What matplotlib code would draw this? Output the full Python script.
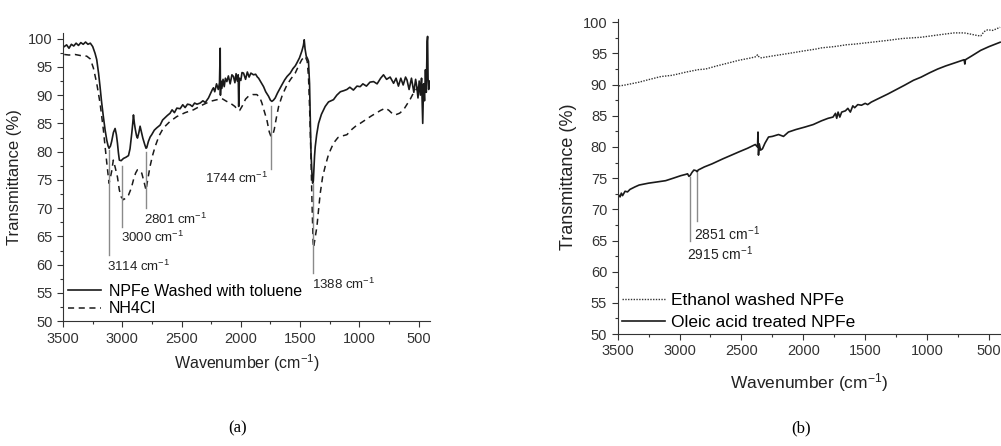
import numpy as np
import matplotlib
matplotlib.use("Agg")
import matplotlib.pyplot as plt
from matplotlib.ticker import MultipleLocator

plt.rcParams["font.family"] = ["Liberation Sans", "DejaVu Sans"]
plt.rcParams["mathtext.default"] = "regular"

# (a) NPFe washed with toluene
tol_wn = [3490, 3470, 3450, 3430, 3410, 3390, 3370, 3350, 3330, 3310, 3290, 3270, 3250, 3230, 3216,
          3200, 3188, 3175, 3160, 3145, 3131, 3120, 3112, 3100, 3090, 3075, 3061, 3050, 3041, 3033,
          3025, 3010, 2990, 2970, 2948, 2935, 2920, 2912, 2906, 2898, 2890, 2880, 2872, 2860, 2850,
          2840, 2827, 2810, 2800, 2794, 2780, 2765, 2752, 2730, 2710, 2681, 2660, 2640, 2620, 2597,
          2580, 2560, 2540, 2512, 2490, 2470, 2450, 2428, 2410, 2390, 2370, 2343, 2320, 2300, 2273,
          2255, 2240, 2231, 2220, 2205, 2190, 2180, 2174, 2172, 2168, 2160, 2150, 2140, 2130, 2118,
          2105, 2090, 2075, 2062, 2050, 2040, 2030, 2022, 2018, 2012, 2000, 1990, 1977, 1960, 1945,
          1930, 1915, 1893, 1875, 1860, 1850, 1830, 1808, 1790, 1766, 1750, 1738, 1725, 1710, 1690,
          1670, 1654, 1630, 1610, 1583, 1560, 1540, 1527, 1505, 1485, 1472, 1465, 1458, 1448, 1438,
          1429, 1420, 1414, 1408, 1400, 1394, 1388, 1383, 1378, 1372, 1360, 1344, 1320, 1300, 1288,
          1260, 1240, 1218, 1190, 1160, 1130, 1105, 1080, 1050, 1020, 993, 970, 940, 910, 880,
          850, 820, 796, 770, 740, 711, 690, 670, 650, 630, 610, 598, 580, 560, 540,
          525, 515, 505, 495, 485, 475, 465, 458, 450, 442, 435, 428, 424, 420, 415, 410]
tol_t = [98.6, 98.9, 98.3, 99.0, 98.7, 99.2, 98.8, 99.3, 99.0, 99.4, 99.0, 99.2, 98.6, 97.4, 96.3,
         93.8, 91.5, 88.8, 86.2, 83.8, 82.0, 81.0, 80.6, 81.0, 81.8, 83.4, 84.1, 83.0, 81.5, 79.8,
         78.5, 78.4, 78.8, 79.0, 79.3, 80.5, 83.3, 85.0, 86.5, 85.0, 83.9, 82.8, 82.4, 83.4, 84.5,
         83.6, 82.4, 81.2, 80.6, 80.7, 81.8, 82.6, 83.0, 83.8, 84.2, 84.7, 85.6, 86.0, 86.4, 86.8,
         87.4, 86.9, 87.7, 87.6, 88.3, 87.8, 88.4, 88.3, 88.0, 88.6, 88.4, 88.6, 89.0, 88.7, 89.5,
         90.3, 91.0, 91.3, 90.6, 92.0, 91.0, 92.2, 98.3, 90.0, 92.5, 91.2, 92.8, 91.5, 93.0, 92.4,
         93.4, 92.0, 93.6, 93.3, 92.2, 93.8, 92.5, 93.6, 88.0, 93.0, 92.6, 94.0, 93.9, 92.8, 94.1,
         93.2, 93.9, 93.6, 93.7, 93.2, 93.0, 92.3, 91.5, 90.6, 89.8, 89.1, 88.9, 89.1, 89.5, 90.4,
         91.2, 91.8, 92.7, 93.3, 93.9, 94.7, 95.2, 95.7, 96.6, 97.8, 98.8, 99.8, 98.2, 96.9, 96.5,
         96.0, 92.0, 85.6, 80.0, 76.2, 74.4, 74.8, 77.0, 79.2, 80.9, 83.0, 85.0, 86.6, 87.5, 88.0,
         88.8, 89.0, 89.2, 90.0, 90.6, 90.8, 91.0, 91.4, 90.9, 91.6, 91.5, 92.0, 91.6, 92.3, 92.4,
         92.0, 93.0, 93.6, 92.8, 93.2, 92.1, 93.0, 91.6, 93.0, 91.8, 93.2, 92.7, 91.0, 93.0, 90.5,
         92.8, 91.5, 89.5, 92.5, 90.0, 93.0, 85.0, 92.0, 89.0, 94.5, 90.5, 99.5, 100.4, 93.0, 91.0, 92.5]

# (a) NH4Cl
nh4_wn = [3490, 3450, 3400, 3350, 3300, 3270, 3244, 3216, 3188, 3160, 3131, 3112, 3100, 3090, 3076,
          3060, 3041, 3025, 3010, 2990, 2970, 2948, 2925, 2906, 2888, 2872, 2855, 2836, 2815, 2800,
          2790, 2766, 2745, 2723, 2690, 2653, 2600, 2541, 2470, 2400, 2330, 2259, 2200, 2160, 2120,
          2090, 2050, 2028, 2010, 1990, 1960, 1936, 1900, 1865, 1840, 1822, 1800, 1780, 1760, 1746,
          1730, 1718, 1700, 1681, 1650, 1611, 1580, 1541, 1510, 1485, 1457, 1440, 1429, 1420, 1409,
          1398, 1390, 1386, 1375, 1358, 1345, 1330, 1310, 1288, 1260, 1218, 1180, 1140, 1105, 1060,
          1020, 993, 950, 900, 860, 820, 780, 750, 720, 697, 660, 627, 600, 570, 543, 520, 500]
nh4_t = [97.2, 97.1, 97.2, 97.0, 96.9, 96.4, 94.8, 92.1, 88.6, 83.9, 78.0, 74.4, 75.5, 76.5, 78.5,
         77.2, 75.5, 73.2, 72.0, 71.5, 71.8, 72.3, 73.5, 75.0, 76.2, 76.8, 76.6, 76.2, 74.5, 73.2,
         74.5, 77.4, 79.3, 80.9, 82.8, 84.2, 85.3, 86.2, 86.9, 87.4, 88.2, 88.9, 89.2, 89.4, 88.9,
         88.6, 88.0, 87.4, 87.3, 88.0, 89.3, 89.8, 90.1, 90.1, 89.6, 88.6, 87.0, 85.6, 83.5, 82.7,
         83.0, 83.9, 86.0, 88.0, 90.0, 91.8, 92.8, 93.9, 95.3, 96.3, 96.9, 96.0, 93.3, 88.0, 79.7,
         70.0, 64.0, 63.0, 64.5, 66.7, 69.5, 72.6, 75.5, 77.4, 79.5, 81.5, 82.5, 82.8, 83.0, 84.0,
         84.7, 85.0, 85.6, 86.3, 86.8, 87.3, 87.7, 87.3, 86.7, 86.5, 86.8, 87.4, 88.3, 89.3, 90.4, 91.0, 91.5]

# (b) Ethanol washed NPFe
eth_wn = [3490, 3450, 3400, 3326, 3250, 3150, 3058, 2950, 2850, 2790, 2700, 2600, 2522, 2420, 2380,
          2370, 2360, 2340, 2250, 2120, 2000, 1900, 1853, 1750, 1650, 1585, 1450, 1317, 1200, 1049,
          900, 781, 700, 647, 600, 567, 540, 510, 470, 410]
eth_t = [89.8, 89.9, 90.1, 90.4, 90.8, 91.3, 91.5, 92.0, 92.4, 92.5, 93.0, 93.5, 93.9, 94.3, 94.5,
         94.8, 94.5, 94.3, 94.6, 95.0, 95.4, 95.7, 95.9, 96.1, 96.4, 96.5, 96.8, 97.1, 97.4, 97.6,
         98.0, 98.3, 98.3, 98.1, 97.9, 97.8, 98.5, 98.8, 98.7, 99.2]

# (b) Oleic acid treated NPFe
ole_wn = [3495, 3480, 3470, 3460, 3440, 3420, 3400, 3360, 3326, 3250, 3180, 3112, 3050, 2990, 2951,
          2935, 2924, 2915, 2900, 2884, 2865, 2857, 2850, 2800, 2737, 2650, 2580, 2522, 2450, 2388,
          2370, 2366, 2362, 2356, 2345, 2330, 2310, 2281, 2250, 2200, 2160, 2120, 2060, 1987, 1920,
          1853, 1800, 1760, 1740, 1730, 1719, 1705, 1690, 1660, 1640, 1620, 1600, 1585, 1560, 1530,
          1500, 1480, 1451, 1400, 1317, 1250, 1183, 1110, 1049, 980, 915, 850, 760, 701, 695,
          690, 640, 567, 500, 410]
ole_t = [72.4, 72.0, 72.6, 72.2, 72.9, 72.8, 73.2, 73.6, 73.9, 74.2, 74.4, 74.6, 75.0, 75.4, 75.6,
         75.7, 75.3, 75.4, 75.9, 76.3, 76.2, 76.0, 76.3, 76.8, 77.3, 78.1, 78.7, 79.2, 79.8, 80.4,
         80.0, 82.4, 78.7, 80.5, 79.5, 79.7, 80.6, 81.6, 81.7, 82.0, 81.7, 82.4, 82.8, 83.2, 83.6,
         84.2, 84.6, 84.8, 85.4, 84.6, 85.6, 84.8, 85.6, 85.8, 86.2, 85.6, 86.6, 86.3, 86.8, 86.7,
         87.0, 86.8, 87.2, 87.7, 88.5, 89.2, 89.9, 90.7, 91.2, 91.9, 92.5, 93.0, 93.6, 94.0, 93.3,
         94.0, 94.6, 95.5, 96.1, 96.8]

# peak markers: (wavenumber, line top, line bottom)
peaks_a = [(3114, 80.3, 61.7), (3000, 77.4, 66.7), (2801, 80.0, 70.0), (1744, 88.0, 77.0), (1388, 74.4, 58.5)]
peaks_b = [(2919, 75.2, 65.0), (2862, 75.9, 68.2)]
labels_a = ["3114", "3000", "2801", "1744", "1388"]
labels_b = ["2915", "2851"]

fig = plt.figure(figsize=(10.01, 4.46), dpi=100)
ax1 = fig.add_axes([0.063, 0.280, 0.367, 0.646])
ax2 = fig.add_axes([0.617, 0.251, 0.383, 0.706])

ink = "#1a1a1a"
grey = "#8a8a8a"


def style(ax, xmin, ymax):
    ax.set_xlim(3500, xmin)
    ax.set_ylim(50, ymax)
    ax.spines["top"].set_visible(False)
    ax.spines["right"].set_visible(False)
    ax.xaxis.set_major_locator(MultipleLocator(500))
    ax.xaxis.set_minor_locator(MultipleLocator(250))
    ax.yaxis.set_major_locator(MultipleLocator(5))
    ax.yaxis.set_minor_locator(MultipleLocator(2.5))
    ax.tick_params(which="major", direction="out", length=4, width=0.8, labelsize=10.5, colors="#333333")
    ax.tick_params(which="minor", direction="out", length=2, width=0.8, colors="#333333")
    ax.set_xticks([3500, 3000, 2500, 2000, 1500, 1000, 500])
    for s in ax.spines.values():
        s.set_color("#333333")


style(ax1, 400, 101)
style(ax2, 403, 100.5)

# panel (a)
ax1.plot(tol_wn, tol_t, color=ink, lw=1.2, label="NPFe Washed with toluene")
ax1.plot(nh4_wn, nh4_t, color=ink, lw=1.1, ls=(0, (4, 3)), label="NH4Cl")
for (wn, top, bot), lab in zip(peaks_a, labels_a):
    ax1.plot([wn, wn], [bot, top], color=grey, lw=1.0)
for (wn, top, bot), lab in zip(peaks_a, labels_a):
    txt = lab + r" cm$^{-1}$"
    if lab == "1744":
        ax1.text(wn + 25, bot - 0.4, txt, fontsize=9.5, ha="right", va="top", color="#222222")
    else:
        ax1.text(wn + 15, bot - 0.6, txt, fontsize=9.5, ha="left", va="top", color="#222222")
ax1.set_xlabel(r"Wavenumber (cm$^{-1}$)", fontsize=11.5, color="#222222", labelpad=5)
ax1.set_ylabel("Transmittance (%)", fontsize=12, color="#222222", labelpad=4)
ax1.legend(loc="lower left", bbox_to_anchor=(0.0, 0.0), frameon=False, fontsize=11.5,
           handlelength=2.1, handletextpad=0.45, labelspacing=0.15, borderaxespad=0.1, borderpad=0.2)

# panel (b)
ax2.plot(eth_wn, eth_t, color="#333333", lw=1.0, ls=(0, (1, 1)), label="Ethanol washed NPFe")
ax2.plot(ole_wn, ole_t, color=ink, lw=1.2, label="Oleic acid treated NPFe")
for (wn, top, bot), lab in zip(peaks_b, labels_b):
    ax2.plot([wn, wn], [bot, top], color=grey, lw=1.0)
    ax2.text(wn + 20, bot - 0.6, lab + r" cm$^{-1}$", fontsize=10, ha="left", va="top", color="#222222")
ax2.set_xlabel(r"Wavenumber (cm$^{-1}$)", fontsize=12.5, color="#222222", labelpad=9)
ax2.set_ylabel("Transmittance (%)", fontsize=13, color="#222222", labelpad=4)
ax2.legend(loc="lower left", bbox_to_anchor=(0.0, 0.0), frameon=False, fontsize=12.5,
           handlelength=2.5, handletextpad=0.35, labelspacing=0.35, borderaxespad=0.1, borderpad=0.15)

fig.text(0.237, 0.04, "(a)", fontsize=12, family="Liberation Serif", ha="center", va="center")
fig.text(0.800, 0.04, "(b)", fontsize=12, family="Liberation Serif", ha="center", va="center")

fig.savefig("out.png", dpi=100)
